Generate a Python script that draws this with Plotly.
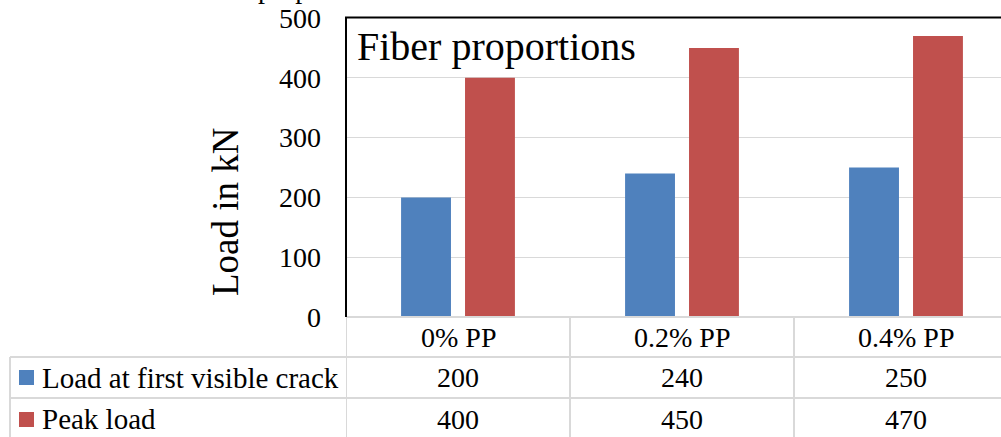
import plotly.graph_objects as go

categories = ["0% PP", "0.2% PP", "0.4% PP"]
first_crack = [200, 240, 250]
peak_load = [400, 450, 470]
series_names = ["Load at first visible crack", "Peak load"]
colors = ["#4F81BD", "#C0504D"]
y_ticks = [0, 100, 200, 300, 400, 500]

W, H = 1001, 437
L, R, T, B = 346, 0, 18, 120
PW, PH = W - L - R, H - T - B
FONT = "Liberation Serif, Times New Roman, serif"
GRID = "#D9D9D9"


def px(x):
    return (x - L) / PW


def py(y):
    return (H - B - y) / PH


def f(size):
    return dict(family=FONT, size=size, color="black")


fig = go.Figure()
for name, vals, col in zip(series_names, [first_crack, peak_load], colors):
    fig.add_trace(go.Bar(x=list(range(len(categories))), y=vals, name=name,
                         marker=dict(color=col, line=dict(width=0)),
                         showlegend=False))

ncat = len(categories)
fig.update_layout(
    width=W, height=H,
    margin=dict(l=L, r=R, t=T, b=B, pad=0),
    paper_bgcolor="white", plot_bgcolor="white",
    barmode="group", bargap=0.429, bargroupgap=0.22,
    font=f(28),
    xaxis=dict(range=[-0.5, -0.5 + PW / 224], showticklabels=False,
               showgrid=False, zeroline=False, showline=False, ticks=""),
    yaxis=dict(range=[0, 500], tickvals=y_ticks, showgrid=True, gridcolor=GRID,
               gridwidth=1, zeroline=False, showline=False, ticks="",
               ticklabelstandoff=24, tickfont=f(28)),
)

shapes = []
line = dict(color=GRID, width=2)
# table lines
shapes.append(dict(type="line", xref="paper", yref="paper", x0=px(346), x1=px(1001 + 5),
                   y0=py(317), y1=py(317), line=line))
for yy in [357, 398]:
    shapes.append(dict(type="line", xref="paper", yref="paper", x0=px(10), x1=px(1001 + 5),
                       y0=py(yy), y1=py(yy), line=line))
for i in range(ncat):
    shapes.append(dict(type="line", xref="x", yref="paper", x0=i - 0.5, x1=i - 0.5,
                       y0=py(317), y1=py(440), line=line))
shapes.append(dict(type="line", xref="paper", yref="paper", x0=px(10), x1=px(10),
                   y0=py(357), y1=py(440), line=line))
# black box border (left and top)
shapes.append(dict(type="line", xref="paper", yref="paper", x0=px(346), x1=px(346),
                   y0=py(317), y1=py(17), line=dict(color="black", width=2)))
shapes.append(dict(type="line", xref="paper", yref="paper", x0=px(345), x1=px(1005),
                   y0=py(17.5), y1=py(17.5), line=dict(color="black", width=2)))
# legend keys
for col, yc in zip(colors, [377.5, 419.5]):
    shapes.append(dict(type="rect", xref="paper", yref="paper", x0=px(19), x1=px(34),
                       y0=py(yc - 7.5), y1=py(yc + 7.5), fillcolor=col, line=dict(width=0)))
fig.update_layout(shapes=shapes)

ann = []
for i, c in enumerate(categories):
    ann.append(dict(x=i, y=py(337), xref="x", yref="paper", text=c, showarrow=False,
                    xanchor="center", yanchor="middle", font=f(28)))
for row_y, vals in zip([377.5, 419], [first_crack, peak_load]):
    for i, v in enumerate(vals):
        ann.append(dict(x=i, y=py(row_y), xref="x", yref="paper", text=str(v),
                        showarrow=False, xanchor="center", yanchor="middle",
                        font=f(28)))
for name, row_y in zip(series_names, [377.5, 419]):
    ann.append(dict(x=px(40), y=py(row_y), xref="paper", yref="paper", text=name,
                    showarrow=False, xanchor="left", yanchor="middle", font=f(29)))
ann.append(dict(x=px(225), y=py(212), xref="paper", yref="paper", text="Load in kN",
                textangle=-90, showarrow=False, xanchor="center", yanchor="middle",
                font=f(37)))
ann.append(dict(x=px(355), y=py(46), xref="paper", yref="paper", text="Fiber proportions",
                showarrow=False, xanchor="left", yanchor="middle", font=f(40)))
# cut-off text at the very top edge (only descenders visible, as in the reference)
ann.append(dict(x=px(256), y=py(-12), xref="paper", yref="paper", text="proportions",
                showarrow=False, xanchor="left", yanchor="middle", font=f(28)))
fig.update_layout(annotations=ann)

fig.write_html("out.html")
